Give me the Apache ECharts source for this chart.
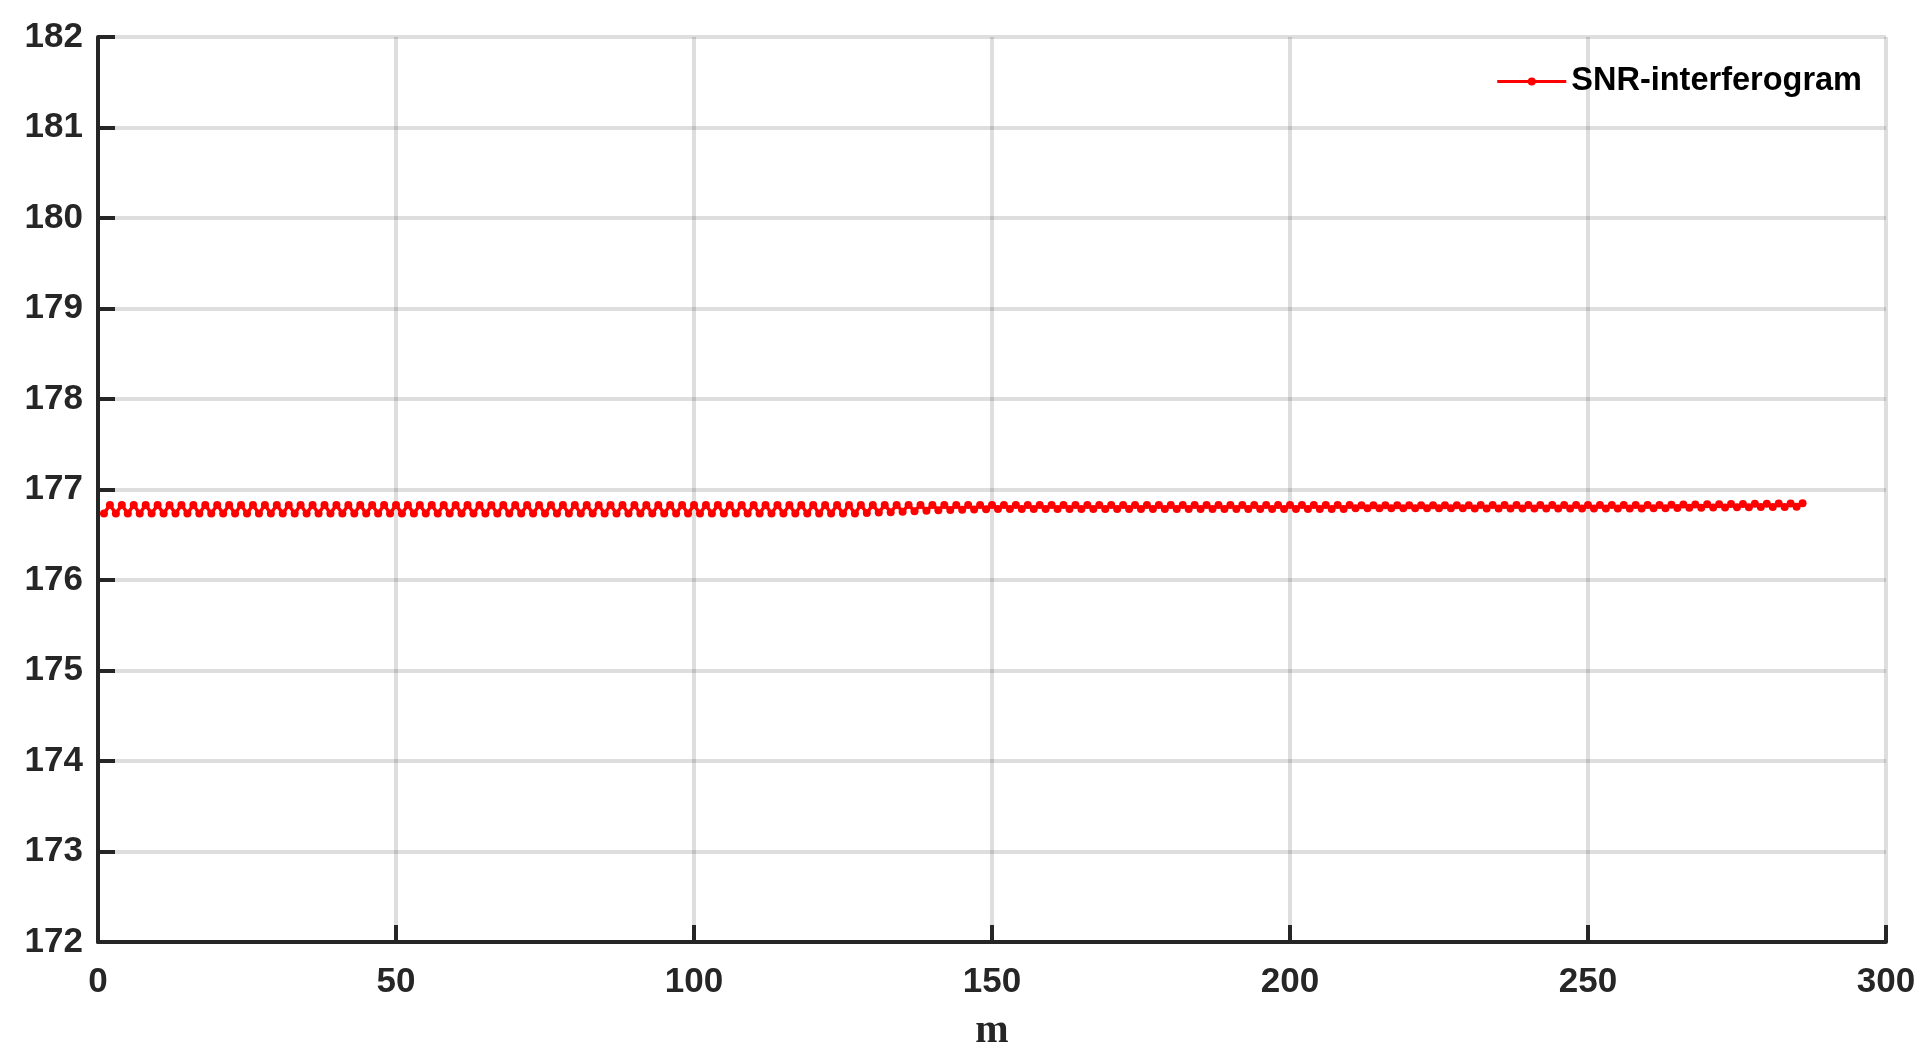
<!DOCTYPE html>
<html>
<head>
<meta charset="utf-8">
<script src="https://cdn.jsdelivr.net/npm/echarts@6/dist/echarts.min.js"></script>
<style>
  html, body { margin: 0; padding: 0; background: #ffffff; }
  #chart { width: 1931px; height: 1059px; }
</style>
</head>
<body>
<div id="chart"></div>
<script>
// SNR values for m = 1..286 (odd m dip, even m peak)
const snr = [
  176.735,176.830,176.735,176.830,176.735,176.830,176.735,176.830,176.735,176.830,176.735,176.830,176.735,176.830,176.735,176.830,176.735,176.830,176.735,176.830,
  176.735,176.830,176.735,176.830,176.735,176.830,176.735,176.830,176.735,176.830,176.735,176.830,176.735,176.830,176.735,176.830,176.735,176.830,176.735,176.830,
  176.735,176.830,176.735,176.830,176.735,176.830,176.735,176.830,176.735,176.830,176.735,176.830,176.735,176.830,176.735,176.830,176.735,176.830,176.735,176.830,
  176.735,176.830,176.735,176.830,176.735,176.830,176.735,176.830,176.735,176.830,176.735,176.830,176.735,176.830,176.735,176.830,176.735,176.830,176.735,176.830,
  176.735,176.830,176.735,176.830,176.735,176.830,176.735,176.830,176.735,176.830,176.735,176.830,176.735,176.830,176.735,176.830,176.735,176.830,176.735,176.830,
  176.735,176.830,176.735,176.830,176.735,176.830,176.735,176.830,176.735,176.830,176.735,176.830,176.735,176.830,176.735,176.830,176.735,176.830,176.735,176.830,
  176.735,176.830,176.735,176.830,176.735,176.830,176.735,176.830,176.740,176.830,176.745,176.830,176.750,176.830,176.755,176.830,176.760,176.830,176.765,176.830,
  176.770,176.829,176.773,176.829,176.776,176.829,176.779,176.829,176.782,176.829,176.785,176.828,176.785,176.828,176.785,176.828,176.785,176.828,176.785,176.828,
  176.785,176.828,176.785,176.828,176.785,176.828,176.785,176.828,176.785,176.828,176.785,176.828,176.785,176.828,176.785,176.828,176.785,176.828,176.785,176.828,
  176.785,176.828,176.785,176.828,176.785,176.828,176.785,176.828,176.785,176.828,176.785,176.828,176.785,176.828,176.785,176.828,176.785,176.828,176.785,176.828,
  176.785,176.828,176.785,176.828,176.785,176.828,176.785,176.828,176.785,176.828,176.792,176.825,176.792,176.825,176.792,176.825,176.792,176.825,176.792,176.825,
  176.792,176.825,176.792,176.825,176.792,176.825,176.792,176.825,176.792,176.825,176.790,176.828,176.790,176.828,176.790,176.828,176.790,176.828,176.790,176.828,
  176.790,176.828,176.790,176.828,176.790,176.828,176.790,176.828,176.790,176.828,176.790,176.828,176.790,176.828,176.790,176.828,176.790,176.828,176.790,176.828,
  176.792,176.830,176.794,176.832,176.796,176.834,176.797,176.835,176.799,176.836,176.800,176.838,176.802,176.840,176.803,176.841,176.805,176.842,176.806,176.843,
  176.807,176.845,176.808,176.846,176.810,176.848
];

const xTicks = { min: 0, max: 300, interval: 50 };
const yTicks = { min: 172, max: 182, interval: 1 };
const seriesName = 'SNR-interferogram';
const xName = 'm';

const chart = echarts.init(document.getElementById('chart'));

// Colores estilo MATLAB
const axisColor = '#262626';
const gridColor = 'rgba(0,0,0,0.13)';
const font = 'Arial, "Liberation Sans", sans-serif';

const axisCommon = {
  axisLine: { show: true, lineStyle: { color: axisColor, width: 4 } },
  axisTick: { show: true, inside: true, length: 17, lineStyle: { color: axisColor, width: 4 } },
  splitLine: { show: true, lineStyle: { color: gridColor, width: 4 } },
  axisLabel: { color: axisColor, fontFamily: font, fontWeight: 'bold', fontSize: 35 }
};

chart.setOption({
  animation: false,
  backgroundColor: '#ffffff',
  grid: { left: 98, right: 45, top: 37, bottom: 117, containLabel: false },
  legend: {
    right: 64,
    top: 60,
    itemWidth: 69,
    itemHeight: 10,
    lineStyle: { width: 3, color: '#ff0000' },
    textStyle: { color: '#000000', fontFamily: font, fontWeight: 'bold', fontSize: 32.5 },
    data: [seriesName]
  },
  xAxis: {
    type: 'value',
    min: xTicks.min,
    max: xTicks.max,
    interval: xTicks.interval,
    name: xName,
    nameLocation: 'middle',
    nameGap: 70,
    nameTextStyle: { color: axisColor, fontFamily: '"Liberation Serif", "Times New Roman", serif', fontWeight: 'bold', fontSize: 40 },
    ...axisCommon,
    axisLabel: { ...axisCommon.axisLabel, margin: 23 }
  },
  yAxis: {
    type: 'value',
    min: yTicks.min,
    max: yTicks.max,
    interval: yTicks.interval,
    ...axisCommon,
    axisLabel: { ...axisCommon.axisLabel, margin: 15 }
  },
  series: [{
    name: seriesName,
    type: 'line',
    data: snr.map((v, i) => [i + 1, v]),
    symbol: 'circle',
    symbolSize: 8,
    showAllSymbol: true,
    itemStyle: { color: '#ff0000' },
    lineStyle: { color: '#ff0000', width: 3.5 }
  }]
});
</script>
</body>
</html>
